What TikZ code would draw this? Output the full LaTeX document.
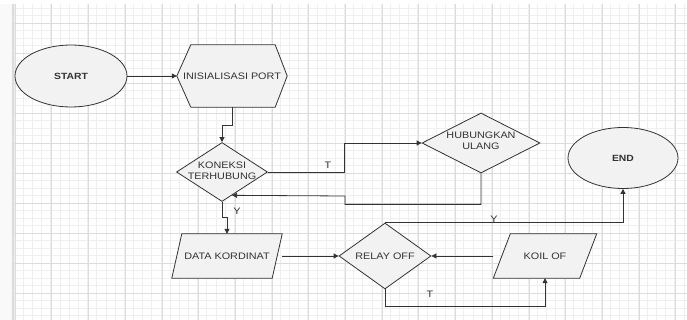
\documentclass[tikz,border=0pt]{standalone}
\usepackage{fontspec}
\setmainfont[FakeStretch=1.15]{Liberation Sans}
\usetikzlibrary{shapes.geometric,arrows.meta,calc,backgrounds}
\definecolor{gridminor}{HTML}{EFEFEF}
\definecolor{gridmajor}{HTML}{DCDCDC}
\definecolor{shapefill}{HTML}{F2F2F2}
\definecolor{linec}{HTML}{333333}
\tikzset{
  shp/.style={draw=linec, line width=0.8pt, fill=shapefill},
  txt/.style={font=\fontsize{9.4}{11}\selectfont, text=linec, align=center, inner sep=0pt},
  ell/.style={ellipse, shp, txt, font=\fontsize{9}{11}\selectfont\bfseries},
  dia/.style={diamond, shp, txt},
  box/.style={rectangle, txt, draw=none, fill=none},
  arr/.style={draw=linec, line width=0.8pt, -{Triangle[length=5pt,width=5pt]}},
  lbl/.style={font=\fontsize{9.4}{11}\selectfont, text=linec, inner sep=0pt}
}
\begin{document}
\begin{tikzpicture}[x=1pt,y=-1pt]
\useasboundingbox (0,0) rectangle (687,320);
\fill[white] (0,0) rectangle (687,320);
\fill[gridminor!40] (0,4) rectangle (12,320);
% grid
\foreach \i in {0,...,73} {\draw[gridminor, line width=0.5pt] ({14+\i*9.175},4) -- ({14+\i*9.175},320);}
\foreach \j in {0,...,42} {\draw[gridminor, line width=0.5pt] (14,{8+\j*7.5}) -- (687,{8+\j*7.5});}
\foreach \i in {0,...,18} {\draw[gridmajor, line width=0.5pt] ({15+\i*36.7},4) -- ({15+\i*36.7},320);}
\foreach \j in {0,...,10} {\draw[gridmajor, line width=0.5pt] (14,{23+\j*30}) -- (687,{23+\j*30});}
\fill[gridmajor] (12,4) rectangle (14,320);

% nodes
\node[ell, minimum width=112pt, minimum height=62pt] (start) at (71,76) {START};
\node[box, minimum width=110pt, minimum height=62pt] (init) at (232,76) {};
\node[dia, minimum width=91pt, minimum height=59pt] (kon) at (222,172) {};
\node[dia, minimum width=118pt, minimum height=60pt] (hub) at (481,143) {};
\node[box, minimum width=110pt, minimum height=44pt] (data) at (227,256) {};
\node[dia, minimum width=92pt, minimum height=58pt] (relay) at (385,256) {RELAY OFF};
\node[box, minimum width=103pt, minimum height=44pt] (koil) at (545,256) {};
\node[ell, minimum width=110pt, minimum height=61pt] (end) at (623,158) {END};

% polygons for hexagon and parallelograms
\draw[shp] ([xshift=14pt]init.north west) -- ([xshift=-12pt]init.north east) -- (init.east)
  -- ([xshift=-12pt]init.south east) -- ([xshift=14pt]init.south west) -- (init.west) -- cycle;
\draw[shp] ([xshift=10pt]data.north west) -- (data.north east) -- ([xshift=-10pt]data.south east)
  -- (data.south west) -- cycle;
\draw[shp] ([xshift=17pt]koil.north west) -- (koil.north east) -- ([xshift=-17pt]koil.south east)
  -- (koil.south west) -- cycle;

% texts
\node[txt] at (init) {INISIALISASI PORT};
\node[txt] at ([yshift=1pt]kon.center) {KONEKSI\\TERHUBUNG};
\node[txt] at ([yshift=2pt]hub.center) {HUBUNGKAN\\ULANG};
\node[txt] at (data) {DATA KORDINAT};
\node[txt] at (koil) {KOIL OF};

% connectors
\coordinate (kret) at ($(kon.south)!0.22!(kon.east)$);
\draw[arr] (start.east) -- (init.west);
\draw[arr] (init.south) -- ++(0,18) -| (kon.north);
\draw[arr] (kon.east) -- ++(76,0) |- (hub.west);
\draw[arr] (hub.south) -- ++(0,31) -| (345,196) -- (kret);
\draw[arr] (kon.south) -- ++(0,16) -| (data.north);
\draw[arr] (data.east) -- (relay.west);
\draw[arr] (koil.west) -- (relay.east);
\draw[arr] (relay.south) -- ++(0,17) -| (koil.south);
\draw[arr] (relay.north) -| (end.south);

% labels
\node[lbl] (lt1) at (328,165) {T};
\node[lbl] (ly1) at (237,211) {Y};
\node[lbl] (lt2) at (430,294) {T};
\node[lbl] (ly2) at (494,219) {Y};
\end{tikzpicture}
\end{document}
